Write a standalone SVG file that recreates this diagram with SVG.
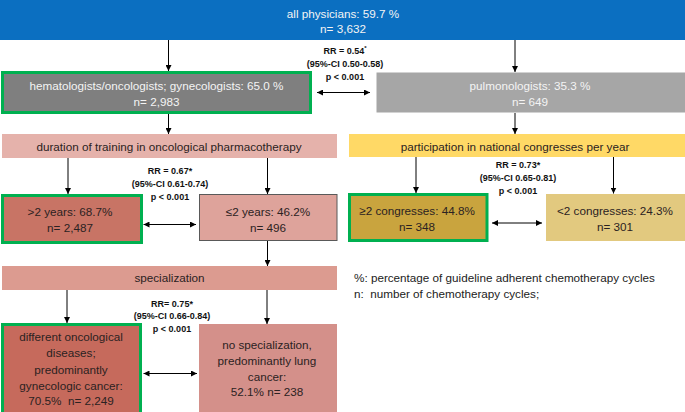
<svg xmlns="http://www.w3.org/2000/svg" width="685" height="412" viewBox="0 0 685 412">
<defs>
<marker id="ah" viewBox="0 0 6 6" refX="6" refY="3" markerWidth="6" markerHeight="6" markerUnits="userSpaceOnUse" orient="auto-start-reverse">
<path d="M0,0 L6,3 L0,6 z" fill="#000"/>
</marker>
<style>
text{font-family:"Liberation Sans",Arial,sans-serif;font-size:11.7px;text-anchor:middle;fill:#2b2222}
.w{fill:#f4f4f4}
.rr{font-size:9px;font-weight:bold;fill:#111}
.lg{text-anchor:start;fill:#222}
.hl{stroke:#00b050;stroke-width:3}
.c line{stroke:#000;stroke-width:1;fill:none}
.one{marker-end:url(#ah)}
.two{marker-start:url(#ah);marker-end:url(#ah)}
</style>
</defs>
<g id="all">
<rect x="0" y="0" width="685" height="40" fill="#0b6fc1"/>
<text class="w" x="343" y="18">all physicians: 59.7 %</text>
<text class="w" x="343" y="33">n= 3,632</text>
</g>
<g id="hemonc">
<rect class="hl" x="2.5" y="72.5" width="308" height="40" fill="#7f7f7f"/>
<text class="w" x="156.5" y="89.5">hematologists/oncologists; gynecologists: 65.0 %</text>
<text class="w" x="156.5" y="105.5">n= 2,983</text>
</g>
<g id="pulm">
<rect x="376.5" y="72.5" width="308.5" height="40" fill="#a6a6a6"/>
<text class="w" x="530" y="89.5">pulmonologists: 35.3 %</text>
<text class="w" x="530" y="105.5">n= 649</text>
</g>
<g id="rr1">
<text class="rr" x="345" y="53.5">RR = 0.54<tspan font-size="6" dy="-4">*</tspan></text>
<text class="rr" x="345" y="67">(95%-CI 0.50-0.58)</text>
<text class="rr" x="345" y="80">p &lt; 0.001</text>
</g>
<g id="duration">
<rect x="2" y="134" width="335" height="24" fill="#e5b2ab"/>
<text x="169" y="151">duration of training in oncological pharmacotherapy</text>
</g>
<g id="congresses">
<rect x="349" y="134" width="336" height="23" fill="#ffd966"/>
<text x="515" y="150.5">participation in national congresses per year</text>
</g>
<g id="gt2">
<rect class="hl" x="2.5" y="195.5" width="139" height="47" fill="#c87465"/>
<text x="70" y="216">&gt;2 years: 68.7%</text>
<text x="70" y="232">n= 2,487</text>
</g>
<g id="le2">
<rect x="199.5" y="194.5" width="137.5" height="46" fill="#dea39b" stroke="#595959" stroke-width="1"/>
<text x="268" y="215.5">≤2 years: 46.2%</text>
<text x="268" y="231.5">n= 496</text>
</g>
<g id="rr2">
<text class="rr" x="170" y="173.5">RR = 0.67*</text>
<text class="rr" x="170" y="187">(95%-CI 0.61-0.74)</text>
<text class="rr" x="170" y="200">p &lt; 0.001</text>
</g>
<g id="ge2c">
<rect class="hl" x="349.5" y="194.5" width="137.5" height="46" fill="#c9a43e"/>
<text x="417" y="215">≥2 congresses: 44.8%</text>
<text x="417" y="231">n= 348</text>
</g>
<g id="lt2c">
<rect x="546" y="194" width="139" height="47" fill="#e2c97f"/>
<text x="615" y="215">&lt;2 congresses: 24.3%</text>
<text x="615" y="231">n= 301</text>
</g>
<g id="rr3">
<text class="rr" x="518" y="167.5">RR = 0.73*</text>
<text class="rr" x="518" y="180.5">(95%-CI 0.65-0.81)</text>
<text class="rr" x="518" y="194">p &lt; 0.001</text>
</g>
<g id="spec">
<rect x="2" y="266" width="335" height="24" fill="#dc9b90"/>
<text x="169.5" y="282">specialization</text>
</g>
<g id="diff">
<rect class="hl" x="2.5" y="324.5" width="138" height="89" fill="#c66a5c"/>
<text x="71" y="340.5">different oncological</text>
<text x="71" y="357">diseases;</text>
<text x="71" y="374">predominantly</text>
<text x="71" y="390">gynecologic cancer:</text>
<text x="71" y="405">70.5%&#160; n= 2,249</text>
</g>
<g id="nospec">
<rect x="199" y="324" width="138" height="88" fill="#d4908a"/>
<text x="267" y="348.5">no specialization,</text>
<text x="267" y="365">predominantly lung</text>
<text x="267" y="381">cancer:</text>
<text x="267" y="396">52.1% n= 238</text>
</g>
<g id="rr4">
<text class="rr" x="172" y="306.5">RR= 0.75*</text>
<text class="rr" x="172" y="319">(95%-CI 0.66-0.84)</text>
<text class="rr" x="172" y="332">p &lt; 0.001</text>
</g>
<g id="legend">
<text class="lg" x="354" y="282">%: percentage of guideline adherent chemotherapy cycles</text>
<text class="lg" x="354" y="297.5">n:&#160; number of chemotherapy cycles;</text>
</g>
<g id="connectors" class="c">
<line class="one" x1="168.5" y1="40" x2="168.5" y2="71"/>
<line class="one" x1="515" y1="40" x2="515" y2="72"/>
<line class="two" x1="317" y1="92.5" x2="370" y2="92.5"/>
<line class="one" x1="168.5" y1="114" x2="168.5" y2="134"/>
<line class="one" x1="515" y1="113" x2="515" y2="134"/>
<line class="one" x1="68" y1="158" x2="68" y2="194"/>
<line class="one" x1="267.5" y1="158" x2="267.5" y2="194"/>
<line class="two" x1="143.5" y1="224.5" x2="196" y2="224.5"/>
<line class="one" x1="416" y1="157" x2="416" y2="193"/>
<line class="one" x1="613.5" y1="157" x2="613.5" y2="193.5"/>
<line class="two" x1="492" y1="223" x2="542" y2="223"/>
<line class="one" x1="267.5" y1="241" x2="267.5" y2="266"/>
<line class="one" x1="67" y1="290" x2="67" y2="323"/>
<line class="one" x1="267" y1="290" x2="267" y2="324"/>
<line class="two" x1="143.5" y1="373.5" x2="197" y2="373.5"/>
</g>
</svg>
